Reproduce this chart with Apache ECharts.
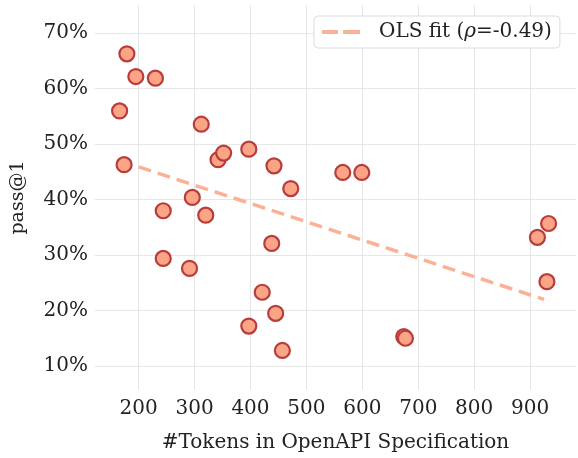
<!DOCTYPE html>
<html>
<head>
<meta charset="utf-8">
<script src="https://cdn.jsdelivr.net/npm/echarts@6/dist/echarts.min.js"></script>
<style>
  html, body { margin: 0; padding: 0; background: #fff; }
  #chart { width: 578px; height: 458px; }
</style>
</head>
<body>
<div id="chart"></div>
<script>
// token counts of each OpenAPI spec and the pass@1 score (%)
var tokens = [179, 195, 230, 166, 174, 312, 342, 352, 397, 442, 472, 296, 244, 320,
              565, 599, 933, 913, 930, 244, 291, 438, 421, 445, 397, 457, 674, 677];
var passAt1 = [66.3, 62.2, 61.9, 56.0, 46.3, 53.6, 47.2, 48.4, 49.1, 46.1, 42.0, 40.4, 38.0, 37.2,
               44.9, 44.9, 35.7, 33.2, 25.2, 29.4, 27.6, 32.1, 23.3, 19.5, 17.2, 12.8, 15.3, 15.0];
// OLS fit line endpoints
var olsX = [200, 925];
var olsY = [45.9, 22.0];
var fitName = 'OLS fit (ρ=-0.49)';

var font = 'DejaVu Serif';
var fs = 20;

var chart = echarts.init(document.getElementById('chart'));

var points = tokens.map(function (t, i) { return [t, passAt1[i]]; });
var fitLine = olsX.map(function (x, i) { return [x, olsY[i]]; });

chart.setOption({
  animation: false,
  grid: { left: 95, right: 2, top: 5, bottom: 68 },
  legend: {
    data: [{ name: fitName, icon: 'path://M0,0H16V4H0Z M21,0H38V4H21Z' }],
    left: 314,
    top: 16,
    padding: [6, 8, 6, 8],
    itemWidth: 38,
    itemHeight: 4,
    backgroundColor: '#fff',
    borderColor: '#dcdcdc',
    borderWidth: 1,
    borderRadius: 4,
    formatter: function () {
      return '{f|OLS fit (}{i|ρ}{n|=-0.49)}';
    },
    textStyle: {
      rich: {
        f: { fontFamily: font, fontSize: fs, color: '#222', padding: [0, 0, 0, 14] },
        n: { fontFamily: font, fontSize: fs, color: '#222' },
        i: { fontFamily: font, fontSize: fs, fontStyle: 'italic', color: '#222' }
      }
    }
  },
  xAxis: {
    type: 'value',
    min: 122,
    max: 982,
    splitNumber: 9,
    name: '#Tokens in OpenAPI Specification',
    nameLocation: 'middle',
    nameGap: 43,
    nameTextStyle: { fontFamily: font, fontSize: fs, color: '#222' },
    axisLine: { show: false },
    axisTick: { show: false },
    axisLabel: {
      margin: 9,
      fontFamily: font,
      fontSize: fs,
      color: '#222',
      showMinLabel: false,
      showMaxLabel: false,
      formatter: function (v) { return v % 100 === 0 ? String(v) : ''; }
    },
    splitLine: {
      show: true,
      showMinLine: false,
      showMaxLine: false,
      lineStyle: { color: '#e6e6e6', width: 1 }
    }
  },
  yAxis: {
    type: 'value',
    min: 5.67,
    max: 75.1,
    splitNumber: 7,
    name: 'pass@1',
    nameLocation: 'middle',
    nameGap: 67,
    nameTextStyle: { fontFamily: font, fontSize: 19, color: '#222' },
    axisLine: { show: false },
    axisTick: { show: false },
    axisLabel: {
      margin: 7,
      fontFamily: font,
      fontSize: fs,
      color: '#222',
      showMinLabel: false,
      showMaxLabel: false,
      formatter: function (v) { return Math.abs(v % 10) < 1e-6 ? v + '%' : ''; }
    },
    splitLine: {
      show: true,
      showMinLine: false,
      showMaxLine: false,
      lineStyle: { color: '#e6e6e6', width: 1 }
    }
  },
  series: [
    {
      name: fitName,
      type: 'line',
      data: fitLine,
      symbol: 'none',
      z: 1,
      lineStyle: { color: '#fbb195', width: 3.5, type: [13, 7] },
      itemStyle: { color: '#fbb195' }
    },
    {
      name: 'tasks',
      type: 'scatter',
      data: points,
      symbolSize: 15,
      z: 2,
      itemStyle: {
        color: '#fca586',
        borderColor: '#b83c3c',
        borderWidth: 2.2,
        opacity: 1
      }
    }
  ]
});
</script>
</body>
</html>
